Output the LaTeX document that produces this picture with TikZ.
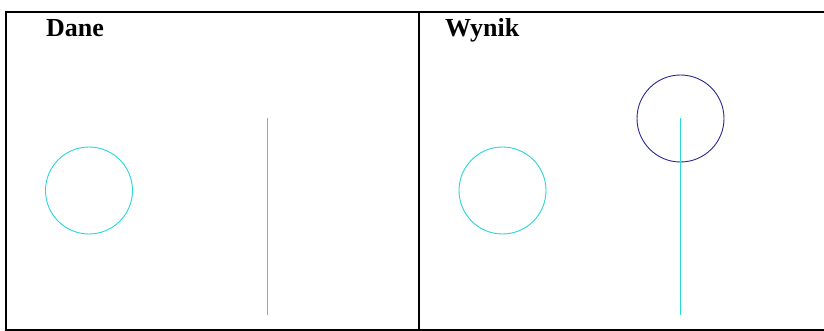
\documentclass[tikz,border=0pt]{standalone}
\usepackage{fontspec}
\setmainfont{Liberation Serif}
\definecolor{cyanline}{RGB}{40,215,215}
\definecolor{navycirc}{RGB}{40,40,150}
\begin{document}
\begin{tikzpicture}[x=1pt,y=-1pt,
  panel/.style={draw=black,line width=1.3pt},
  shape circ/.style={circle,draw=cyanline,line width=0.9pt,minimum size=87pt,inner sep=0pt},
  shape circblue/.style={circle,draw=navycirc,line width=0.9pt,minimum size=87pt,inner sep=0pt},
  seg/.style={draw=cyanline,line width=1pt},
  title/.style={font=\fontsize{26}{26}\selectfont\bfseries,anchor=base west,inner sep=0pt}]
\useasboundingbox (0,0) rectangle (824,331);
\fill[white] (0,0) rectangle (824,331);
% panels
\draw[panel] (824,12) -- (6,12) -- (6,330) -- (824,330);
\draw[panel] (419,12) -- (419,330);
% labels
\node[title] (dane) at (46,37) {Dane};
\node[title] (wynik) at (445,37) {Wynik};
% left panel
\node[shape circ] (c1) at (89,190.5) {};
\coordinate (l1a) at (267,118);
\coordinate (l1b) at (267,315);
\draw[seg] (l1a) -- (l1b);
% right panel
\node[shape circ] (c2) at (502.5,190.5) {};
\node[shape circblue] (c3) at (680.5,118.5) {};
\coordinate (l2b) at (680.5,315);
\draw[seg] (c3.center) -- (l2b);
\end{tikzpicture}
\end{document}
